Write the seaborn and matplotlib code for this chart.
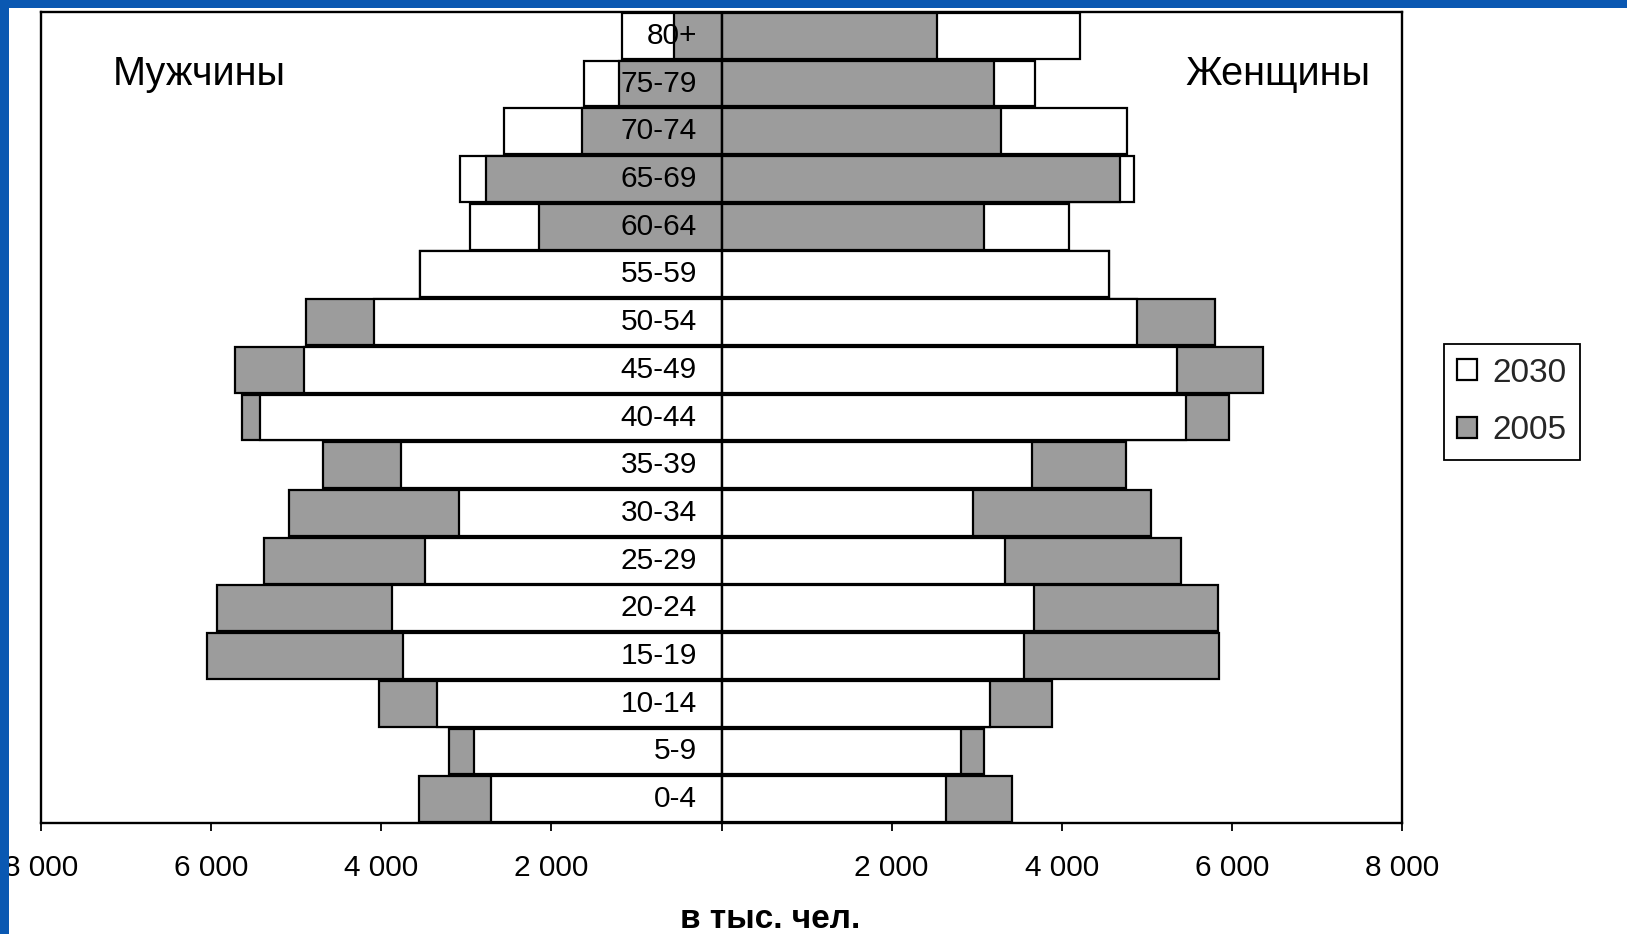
import matplotlib
matplotlib.use("Agg")
import matplotlib.pyplot as plt
import seaborn as sns
import numpy as np
from matplotlib.patches import Patch, Rectangle

# ---------------- data (thousand persons) ----------------
ages = ["0-4", "5-9", "10-14", "15-19", "20-24", "25-29", "30-34", "35-39",
        "40-44", "45-49", "50-54", "55-59", "60-64", "65-69", "70-74", "75-79", "80+"]
male_2030 = [2710, 2910, 3350, 3750, 3870, 3480, 3090, 3770, 5420, 4910,
             4090, 3550, 2960, 3080, 2560, 1620, 1175]
male_2005 = [3560, 3200, 4030, 6050, 5930, 5380, 5080, 4680, 5640, 5720,
             4880, 3550, 2140, 2770, 1645, 1210, 560]
female_2030 = [2640, 2810, 3160, 3560, 3670, 3330, 2960, 3650, 5460, 5360,
               4890, 4550, 4090, 4850, 4770, 3690, 4220]
female_2005 = [3420, 3090, 3890, 5850, 5840, 5400, 5050, 4760, 5970, 6370,
               5800, 4550, 3090, 4680, 3280, 3200, 2530]
x_ticks = [-8000, -6000, -4000, -2000, 0, 2000, 4000, 6000, 8000]
x_tick_labels = ["8 000", "6 000", "4 000", "2 000", "", "2 000", "4 000", "6 000", "8 000"]
legend_labels = ["2030", "2005"]

WHITE = "#ffffff"
GRAY = "#9c9c9c"
BLUE = "#0a58b2"

sns.set_theme(style="white")
plt.rcParams["font.family"] = ["Liberation Sans", "DejaVu Sans"]

W, H = 1627, 934
fig = plt.figure(figsize=(W / 100, H / 100), dpi=100)
fig.patch.set_facecolor("white")
ax = fig.add_axes([41 / W, 1 - 823 / H, (1402 - 41) / W, (823 - 12) / H])

order = ages[::-1]
series = [
    (-np.array(male_2030), WHITE),
    (np.array(female_2030), WHITE),
    (-np.array(male_2005), GRAY),
    (np.array(female_2005), GRAY),
]
for vals, col in series:
    sns.barplot(x=vals, y=ages, order=order, orient="h", color=col, saturation=1,
                width=0.96, edgecolor="black", linewidth=1.6, errorbar=None, ax=ax)

# smaller bar of each pair drawn on top
def key(p):
    return (round(p.get_y() + p.get_height() / 2, 2), np.sign(p.get_width()))

white_bars = {key(p): p for c in ax.containers[:2] for p in c}
gray_bars = {key(p): p for c in ax.containers[2:] for p in c}
for k, wp in white_bars.items():
    gp = gray_bars.get(k)
    if gp is None:
        continue
    if abs(gp.get_width()) < abs(wp.get_width()):
        wp.set_zorder(2)
        gp.set_zorder(3)
    else:
        gp.set_zorder(2)
        wp.set_zorder(3)

ax.axvline(0, color="black", lw=1.6, zorder=6)

# age labels
for i, lab in enumerate(order):
    ax.text(-290, i, lab, ha="right", va="center", fontsize=21.5, color="black", zorder=10)

ax.set_xlim(-8000, 8000)
ax.set_ylim(16.5, -0.5)
ax.set_yticks([])
ax.set_ylabel("")
ax.set_xlabel("")
ax.set_xticks(x_ticks)
ax.set_xticklabels(x_tick_labels)
ax.tick_params(axis="x", direction="out", length=5.5, width=1.3, pad=17,
               labelsize=21.5, colors="black", bottom=True)
for s in ax.spines.values():
    s.set_visible(True)
    s.set_color("black")
    s.set_linewidth(1.7)

fig.text(113 / W, 1 - 74 / H, "Мужчины", ha="left", va="center", fontsize=28.5, color="black")
fig.text(1370 / W, 1 - 74 / H, "Женщины", ha="right", va="center", fontsize=28.5, color="black")
fig.text(770 / W, 1 - 920 / H, "в тыс. чел.", ha="center", va="center",
         fontsize=24, fontweight="bold", color="black")

handles = [Patch(facecolor=WHITE, edgecolor="black", linewidth=1.6),
           Patch(facecolor=GRAY, edgecolor="black", linewidth=1.6)]
leg = fig.legend(handles, legend_labels, loc="center left",
                 bbox_to_anchor=(1444 / W, 1 - 402 / H), fontsize=24,
                 frameon=True, fancybox=False, edgecolor="black", framealpha=1,
                 handlelength=0.6, handleheight=0.6, handletextpad=0.45,
                 borderpad=0.4, labelspacing=0.8, borderaxespad=0)
leg.get_frame().set_linewidth(1.3)

# blue slide border
fig.patches.append(Rectangle((0, 0), 9 / W, 1, transform=fig.transFigure,
                             facecolor=BLUE, edgecolor="none", zorder=20))
fig.patches.append(Rectangle((0, 1 - 7.5 / H), 1, 7.5 / H, transform=fig.transFigure,
                             facecolor=BLUE, edgecolor="none", zorder=20))

fig.savefig("out.png", dpi=100)
